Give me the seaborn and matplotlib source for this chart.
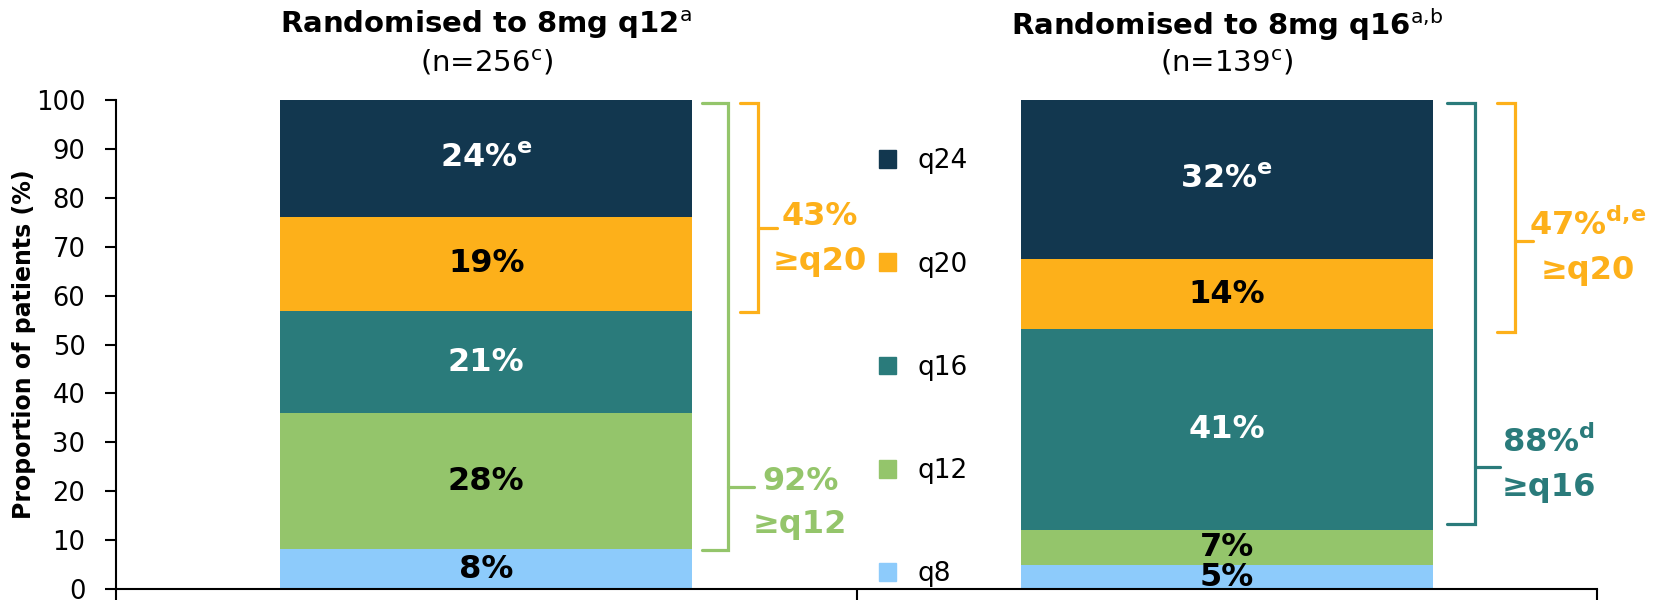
import numpy as np
import pandas as pd
import seaborn as sns
import matplotlib.pyplot as plt
from matplotlib.patches import Patch

# data (percent of patients per last assigned interval)
arms = ["Randomised to 8mg q12", "Randomised to 8mg q16"]
series = ["q8", "q12", "q16", "q20", "q24"]
q8 = [8.1, 4.9]
q12 = [27.8, 7.2]
q16 = [21.0, 41.0]
q20 = [19.2, 14.4]
q24 = [23.9, 32.5]
labels_q8 = ["8%", "5%"]
labels_q12 = ["28%", "7%"]
labels_q16 = ["21%", "41%"]
labels_q20 = ["19%", "14%"]
labels_q24 = ["24%$^{\\mathbf{e}}$", "32%$^{\\mathbf{e}}$"]
titles = ["Randomised to 8mg q12$^{\\mathrm{a}}$", "Randomised to 8mg q16$^{\\mathrm{a{,}b}}$"]
subtitles = ["(n=256$^{\\mathrm{c}}$)", "(n=139$^{\\mathrm{c}}$)"]

colors = {"q8": "#8DCBFB", "q12": "#94C56B", "q16": "#2A7B7B", "q20": "#FDB01A", "q24": "#12374F"}
text_col = {"q8": "black", "q12": "black", "q16": "white", "q20": "black", "q24": "white"}
values = {"q8": q8, "q12": q12, "q16": q16, "q20": q20, "q24": q24}
labels = {"q8": labels_q8, "q12": labels_q12, "q16": labels_q16, "q20": labels_q20, "q24": labels_q24}

sns.set_style("white")
plt.rcParams["font.family"] = ["DejaVu Sans"]
plt.rcParams["text.color"] = "black"
plt.rcParams["axes.labelcolor"] = "black"
plt.rcParams["xtick.color"] = "black"
plt.rcParams["ytick.color"] = "black"

fig = plt.figure(figsize=(16.71, 6.03), dpi=100)
ax = fig.add_axes([116 / 1671, 14 / 603, 1481 / 1671, 489 / 603])

bottom = np.zeros(len(arms))
for s in series:
    vals = np.array(values[s])
    sns.barplot(x=arms, y=vals, color=colors[s], saturation=1, width=0.556,
                bottom=bottom, errorbar=None, linewidth=0, ax=ax)
    for i in range(len(arms)):
        ax.text(i, bottom[i] + vals[i] / 2, labels[s][i], ha="center", va="center",
                fontsize=23, fontweight="bold", color=text_col[s])
    bottom += vals

for i in range(len(arms)):
    ax.text(i, 115.3, titles[i], ha="center", va="center", fontsize=21,
            fontweight="bold", clip_on=False)
    ax.text(i, 107.6, subtitles[i], ha="center", va="center", fontsize=21, clip_on=False)

# brackets: (x_end, x_vert, x_tip, y_bottom, y_top, y_mid, color, line1, line2, text_x, y1, y2)
orange = colors["q20"]
green = colors["q12"]
teal = colors["q16"]
brackets = [
    (0.292, 0.327, 0.362, 8.0, 99.4, 20.9, green, "92%", "≥q12", 0.424, 21.9, 13.2),
    (0.342, 0.367, 0.392, 56.6, 99.4, 73.8, orange, "43%", "≥q20", 0.451, 76.1, 66.9),
    (1.298, 1.335, 1.369, 13.3, 99.4, 25.0, teal, "88%$^{\\mathbf{d}}$", "≥q16", 1.435, 29.9, 20.7),
    (1.365, 1.389, 1.413, 52.6, 99.4, 71.2, orange, "47%$^{\\mathbf{d{,}e}}$", "≥q20", 1.487, 74.4, 65.2),
]
for xe, xv, xt, yb, yt, ym, c, t1, t2, tx, ty1, ty2 in brackets:
    ax.plot([xe, xv, xv, xe], [yb, yb, yt, yt], color=c, lw=2.3, clip_on=False,
            solid_joinstyle="miter")
    ax.plot([xv, xt], [ym, ym], color=c, lw=2.3, clip_on=False)
    ax.text(tx, ty1, t1, ha="center", va="center", fontsize=23, fontweight="bold", color=c)
    ax.text(tx, ty2, t2, ha="center", va="center", fontsize=23, fontweight="bold", color=c)

ax.set_xlim(-0.5, 1.5)
ax.set_ylim(0, 100)
ax.set_yticks(np.arange(0, 101, 10))
ax.set_xticks([-0.5, 0.5, 1.5])
ax.set_xticklabels(["", "", ""])
ax.set_xlabel("")
ax.set_ylabel("Proportion of patients (%)", fontsize=17, fontweight="bold")
ax.yaxis.set_label_coords(-0.054, 0.5)
sns.despine(ax=ax)
for side in ["left", "bottom"]:
    ax.spines[side].set_color("black")
    ax.spines[side].set_linewidth(1.5)
ax.tick_params(axis="y", direction="out", length=8, width=1.5, labelsize=18.5, pad=14, left=True)
ax.tick_params(axis="x", direction="out", length=8, width=1.5, bottom=True)

handles = [Patch(color=colors[s]) for s in series[::-1]]
ax.legend(handles, series[::-1], loc="center left", bbox_to_anchor=(879 / 1671, 0.390),
          bbox_transform=fig.transFigure, frameon=False, fontsize=19, handlelength=0.65,
          handleheight=0.65, handletextpad=0.8, labelspacing=2.93, borderpad=0, borderaxespad=0)

fig.savefig("out.png", dpi=100)
